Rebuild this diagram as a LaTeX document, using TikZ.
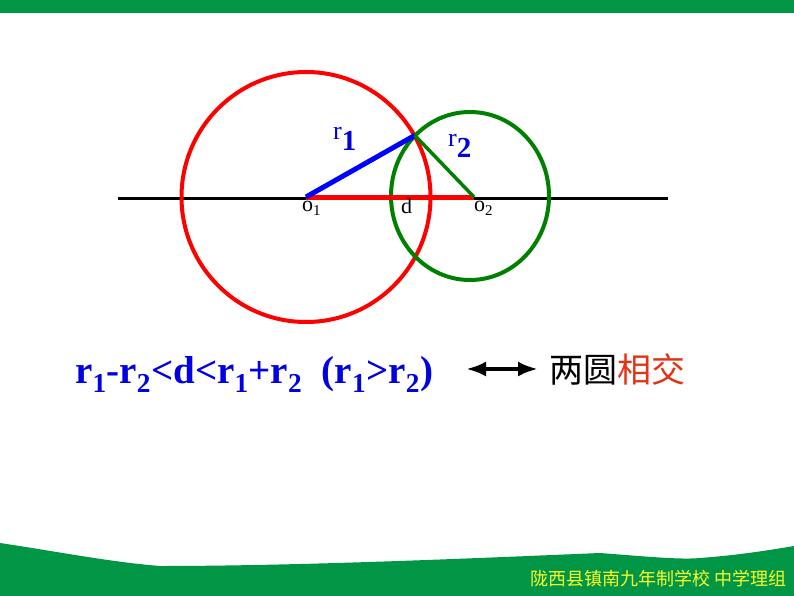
\documentclass[tikz,border=0pt]{standalone}
\usepackage{fontspec}
\setmainfont{Liberation Serif}
\newfontfamily\cjk{Noto Sans CJK SC}
\usetikzlibrary{arrows.meta}
\definecolor{barGreen}{RGB}{0,150,70}
\definecolor{ringGreen}{RGB}{0,128,0}
\definecolor{formulaBlue}{RGB}{0,0,225}
\definecolor{wordRed}{RGB}{228,50,20}
\definecolor{footYellow}{RGB}{250,250,40}
\begin{document}
\begin{tikzpicture}[x=1pt,y=-1pt,
  ring/.style={line width=4pt},
  radius line/.style={line width=5pt},
  lbl/.style={inner sep=0pt,font=\fontsize{22}{24}\selectfont},
  rlbl/.style={inner sep=0pt,text=formulaBlue}]
\useasboundingbox (0,0) rectangle (794,596);
\fill [white] (0,0) rectangle (794,596);
\fill [barGreen] (0,0) rectangle (794,13);
\fill [barGreen] (0,543) .. controls (60,552) and (110,562) .. (160,566)
  .. controls (300,566) and (480,558) .. (600,553)
  .. controls (640,556) and (680,560) .. (700,558)
  .. controls (740,555) and (770,550) .. (794,546)
  -- (794,596) -- (0,596) -- cycle;
\coordinate (O1) at (306,197);
\coordinate (O2) at (474,197);
\coordinate (C2) at (470,196);
\coordinate (P) at (414.8,135.4);
\coordinate (lineL) at (118,198);
\coordinate (lineR) at (668,198);
\draw [black, line width=3pt] (lineL) -- (lineR);
\draw [red, ring] (O1) ellipse (124.5 and 125);
\draw [ringGreen, ring] (C2) ellipse (79 and 84);
\draw [red, radius line] (O1) -- (O2);
\draw [blue, radius line] (O1) -- (P);
\draw [ringGreen, line width=3.5pt] (P) -- (O2);
\node [rlbl, anchor=base west] (r1) at (333,140) {{\fontsize{26}{28}\selectfont r}\raisebox{-10pt}{\fontsize{29}{30}\selectfont\bfseries 1}};
\node [rlbl, anchor=base west] (r2) at (448,147) {{\fontsize{26}{28}\selectfont r}\raisebox{-10pt}{\fontsize{29}{30}\selectfont\bfseries 2}};
\node [lbl, anchor=base west] (o1) at (302,211) {o\raisebox{-5pt}{\fontsize{15}{16}\selectfont 1}};
\node [lbl, anchor=base west] (d) at (401,213) {d};
\node [lbl, anchor=base west] (o2) at (474,211) {o\raisebox{-5pt}{\fontsize{15}{16}\selectfont 2}};
\node [inner sep=0pt, anchor=base west, text=formulaBlue, font=\fontsize{39}{43}\selectfont\bfseries] (formula) at (75,383)
  {r$_{\mathbf 1}$-r$_{\mathbf 2}$<d<r$_{\mathbf 1}$+r$_{\mathbf 2}$\ \ (r$_{\mathbf 1}$>r$_{\mathbf 2}$)};
\coordinate (arrL) at (466,369);
\coordinate (arrR) at (538,369);
\draw [black, line width=4.5pt, {Latex[length=20pt,width=15pt]}-{Latex[length=20pt,width=15pt]}] (arrL) -- (arrR);
\node [inner sep=0pt, anchor=west, font=\cjk\fontsize{34}{36}\selectfont] (word) at (549,369)
  {两圆\textcolor{wordRed}{相交}};
\node [inner sep=0pt, anchor=east, text=footYellow, font=\cjk\fontsize{18}{19}\selectfont] (foot) at (787,579)
  {陇西县镇南九年制学校 中学理组};
\end{tikzpicture}
\end{document}
